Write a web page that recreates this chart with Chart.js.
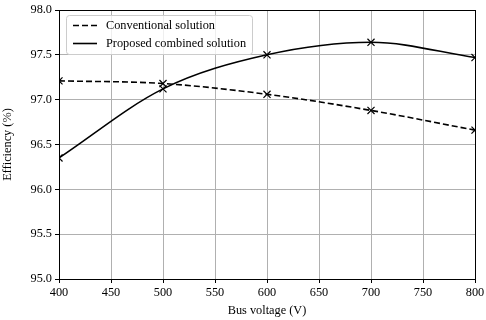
<!DOCTYPE html>
<html><head><meta charset="utf-8">
<script src="https://cdn.jsdelivr.net/npm/chart.js@4/dist/chart.umd.min.js"></script>
<style>html,body{margin:0;padding:0;background:#fff}#wrap{width:486px;height:320px;position:relative}</style>
</head><body><div id="wrap"><canvas id="c" width="486" height="320"></canvas></div>
<script>
const busVoltage = [400, 500, 600, 700, 800];
const conventional = [97.21, 97.18, 97.06, 96.88, 96.66];
const proposed = [96.35, 97.12, 97.50, 97.64, 97.47];
const seriesNames = ['Conventional solution', 'Proposed combined solution'];
const xTicks = [400, 450, 500, 550, 600, 650, 700, 750, 800];
const yTicks = [95.0, 95.5, 96.0, 96.5, 97.0, 97.5, 98.0];

const FONT = 'Liberation Serif';

const framePlugin = {
  id: 'frame',
  afterDatasetsDraw(chart) {
    const {ctx, chartArea: a} = chart;
    ctx.save();
    ctx.strokeStyle = '#000';
    ctx.lineWidth = 1;
    ctx.strokeRect(Math.round(a.left) + 0.5, Math.round(a.top) + 0.5, Math.round(a.right - a.left), Math.round(a.bottom - a.top));
    // legend
    const lx = a.left + 7, ly = a.top + 5, lw = 186, lh = 39;
    ctx.fillStyle = 'rgba(255,255,255,0.8)';
    ctx.strokeStyle = '#cccccc';
    ctx.lineWidth = 1;
    ctx.beginPath();
    if (ctx.roundRect) ctx.roundRect(lx + 0.5, ly + 0.5, lw, lh, 3); else ctx.rect(lx + 0.5, ly + 0.5, lw, lh);
    ctx.fill(); ctx.stroke();
    const rows = [{y: ly + 10.5, dash: [6, 3]}, {y: ly + 28.5, dash: []}];
    ctx.font = '12.3px "' + FONT + '"';
    ctx.textBaseline = 'middle';
    rows.forEach((r, i) => {
      ctx.strokeStyle = '#000';
      ctx.lineWidth = 1.6;
      ctx.setLineDash(r.dash);
      ctx.beginPath(); ctx.moveTo(lx + 7, r.y); ctx.lineTo(lx + 31, r.y); ctx.stroke();
      ctx.setLineDash([]);
      ctx.fillStyle = '#000';
      ctx.fillText(seriesNames[i], lx + 40, r.y + 0.5);
    });
    ctx.restore();
  }
};

new Chart(document.getElementById('c'), {
  type: 'line',
  data: {
    datasets: [
      {
        label: seriesNames[0],
        data: busVoltage.map((v, i) => ({x: v, y: conventional[i]})),
        borderColor: '#000', borderWidth: 1.6, borderDash: [6, 3],
        cubicInterpolationMode: 'monotone', fill: false,
        pointStyle: 'crossRot', pointRadius: 5, pointBorderWidth: 1.2,
        pointBorderColor: '#000', pointBackgroundColor: '#000'
      },
      {
        label: seriesNames[1],
        data: busVoltage.map((v, i) => ({x: v, y: proposed[i]})),
        borderColor: '#000', borderWidth: 1.6,
        cubicInterpolationMode: 'monotone', fill: false,
        pointStyle: 'crossRot', pointRadius: 5, pointBorderWidth: 1.2,
        pointBorderColor: '#000', pointBackgroundColor: '#000'
      }
    ]
  },
  options: {
    responsive: false, animation: false, devicePixelRatio: 1,
    layout: {padding: {top: 10, right: 11, left: 0, bottom: 0}},
    plugins: {legend: {display: false}, tooltip: {enabled: false}},
    scales: {
      x: {
        type: 'linear', min: 400, max: 800,
        afterBuildTicks: s => { s.ticks = xTicks.map(v => ({value: v})); },
        afterFit: s => { s.height = 41; s.paddingLeft = 0; s.paddingRight = 0; },
        grid: {color: '#b0b0b0', lineWidth: 1, tickColor: '#000', tickLength: 4, drawTicks: true},
        border: {display: true, color: '#000', width: 1},
        ticks: {color: '#000', font: {family: FONT, size: 12.3}, padding: 2, maxRotation: 0},
        title: {display: true, text: 'Bus voltage (V)', color: '#000', font: {family: FONT, size: 12.3}, padding: {top: 0, bottom: 2}}
      },
      y: {
        type: 'linear', min: 95, max: 98,
        afterBuildTicks: s => { s.ticks = yTicks.map(v => ({value: v})); },
        afterFit: s => { s.width = 59; s.paddingTop = 0; s.paddingBottom = 0; },
        grid: {color: '#b0b0b0', lineWidth: 1, tickColor: '#000', tickLength: 4, drawTicks: true},
        border: {display: true, color: '#000', width: 1},
        ticks: {color: '#000', font: {family: FONT, size: 12.3}, padding: 3, callback: v => v.toFixed(1)},
        title: {display: true, text: 'Efficiency (%)', color: '#000', font: {family: FONT, size: 12.3}, padding: {top: 0, bottom: 4}}
      }
    }
  },
  plugins: [framePlugin]
});
</script></body></html>
